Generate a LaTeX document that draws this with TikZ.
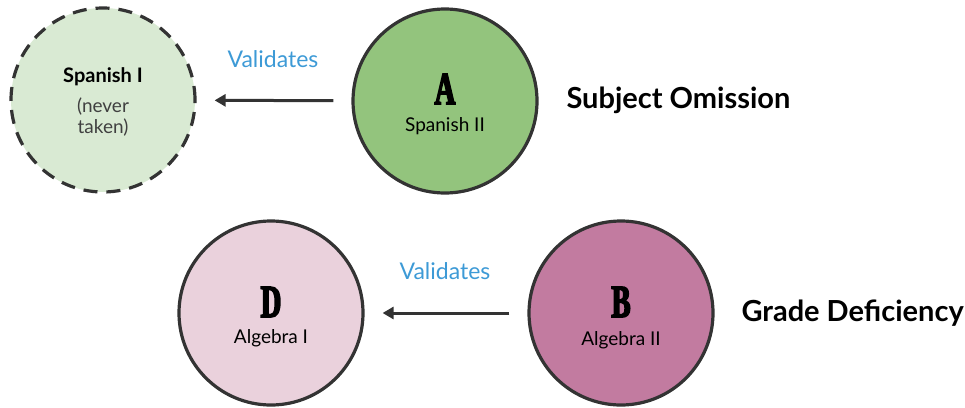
\documentclass[tikz,border=0pt]{standalone}
\usepackage{fontspec}
\setmainfont{Lato}
\newfontfamily\letterfont[FakeStretch=0.62,FakeBold=3.5]{Liberation Serif}
\usetikzlibrary{arrows.meta}
\definecolor{strokegray}{HTML}{333333}
\definecolor{lightgreen}{HTML}{D9EAD3}
\definecolor{midgreen}{HTML}{93C47D}
\definecolor{lightpink}{HTML}{EAD1DC}
\definecolor{midpink}{HTML}{C27BA0}
\definecolor{validblue}{HTML}{3D9AD6}
\tikzset{
  course/.style={circle, draw=strokegray, line width=3.2pt, minimum size=184pt, inner sep=0pt},
  dashcourse/.style={course, dash pattern=on 14pt off 9pt},
  letter/.style={font=\letterfont\bfseries\fontsize{46}{46}\selectfont, text=black, inner sep=0pt},
  clabel/.style={font=\fontsize{19}{21}\selectfont, text=black, align=center},
  vlabel/.style={font=\fontsize{23}{26}\selectfont, text=validblue},
  headline/.style={font=\bfseries\fontsize{29}{32}\selectfont, text=black, anchor=west},
  validarrow/.style={draw=strokegray, line width=3pt, -{Triangle[length=11pt,width=12pt]}, shorten <=18pt, shorten >=18pt}
}
\begin{document}
\begin{tikzpicture}[x=1pt,y=-1pt]
\useasboundingbox (0,0) rectangle (965,407);
% top row
\node[dashcourse, fill=lightgreen] (s1) at (103,100) {};
\node[course, fill=midgreen] (a) at (445,101) {};
\node[clabel, font=\bfseries\fontsize{20}{22}\selectfont] (s1t) at (103,77) {Spanish I};
\node[clabel, text=black!75] (s1n) at (103,107) {(never};
\node[clabel, text=black!75] (s1m) at (103,128) {taken)};
\node[letter] (al) at (445,89) {A};
\node[clabel] (at) at (445,126) {Spanish II};
\draw[validarrow] (a) -- (s1);
\node[vlabel] (v1) at (273,59) {Validates};
\node[headline] (h1) at (563,100) {Subject Omission};
% bottom row
\node[course, fill=lightpink] (d) at (271,313) {};
\node[course, fill=midpink] (b) at (621,313) {};
\node[letter] (dl) at (271,302) {D};
\node[clabel] (dt) at (271,338) {Algebra I};
\node[letter] (bl) at (621,302) {B};
\node[clabel] (bt) at (621,340) {Algebra II};
\draw[validarrow] (b) -- (d);
\node[vlabel] (v2) at (445,271) {Validates};
\node[headline] (h2) at (738,313) {Grade Deficiency};
\end{tikzpicture}
\end{document}
